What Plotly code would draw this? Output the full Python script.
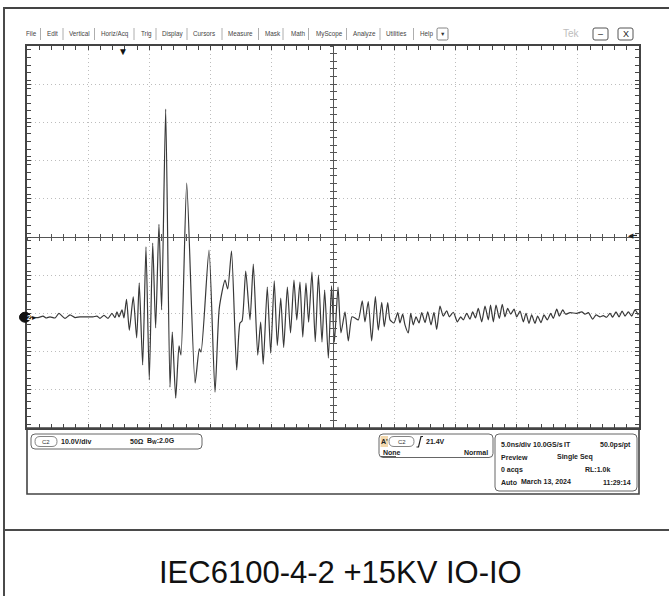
import plotly.graph_objects as go

W, H = 669, 596

# ---------------- data ----------------
# time in ns from the left edge of the screen (5 ns/div, 10 div), voltage in V
time_ns = [0.08, 0.90, 1.31, 1.55, 1.88, 2.29, 2.61, 3.10, 3.51, 3.92,
           4.33, 5.39, 5.72, 5.96, 6.29, 6.62, 6.94, 7.19, 7.35, 7.52,
           7.76, 7.92, 8.13, 8.36, 8.68, 8.96, 9.17, 9.45, 9.72, 9.99,
           10.27, 10.51, 10.78, 11.00, 11.33, 11.68, 11.87, 12.15, 12.42, 12.58,
           13.05, 13.73, 14.08, 14.22, 14.87, 15.36, 15.71, 16.18, 16.40, 16.71,
           17.13, 17.40, 17.57, 17.87, 18.22, 18.49, 18.85, 19.09, 19.30, 19.63,
           19.91, 20.20, 20.45, 20.73, 20.97, 21.27, 21.53, 21.81, 22.04, 22.30,
           22.53, 22.79, 23.01, 23.28, 23.55, 23.81, 24.10, 24.32, 24.62, 24.88,
           25.11, 25.41, 25.65, 25.98, 26.25, 26.55, 26.80, 27.07, 27.39, 27.61,
           27.88, 28.16, 28.46, 28.70, 28.98, 29.19, 29.47, 29.66, 29.98, 30.29,
           30.47, 30.69, 30.88, 31.15, 31.35, 31.56, 31.78, 32.03, 32.25, 32.52,
           32.74, 33.01, 33.25, 33.47, 33.74, 34.01, 34.29, 34.50, 34.83, 35.16,
           35.43, 35.65, 35.92, 36.19, 36.41, 36.64, 36.87, 37.15, 37.42, 37.69,
           37.87, 38.10, 38.32, 38.59, 38.83, 39.05, 39.27, 39.52, 39.79, 40.01,
           40.28, 40.55, 40.77, 41.01, 41.23, 41.50, 41.72, 41.99, 42.24, 42.51,
           42.79, 43.00, 43.28, 43.49, 43.77, 44.01, 44.36, 44.91, 45.32, 45.59,
           45.86, 46.22, 46.49, 46.81, 47.08, 47.36, 47.63, 47.85, 48.12, 48.37,
           48.62, 48.86, 49.13, 49.40, 49.67, 49.94]
volt_v = [0.1, -0.1, 0.3, -0.2, 0.1, -0.2, 1.0, -0.3, 0.6, -0.1,
          0.1, 0.1, 0.3, -0.3, 0.5, -0.3, 1.0, -0.1, 1.4, 0.1,
          1.9, -0.2, 4.7, -3.4, 5.3, -5.4, 9.0, -12.5, 18.4, -16.4,
          19.4, -2.8, 24.3, 1.9, 54.5, -18.3, -3.9, -21.2, -7.5, -9.9,
          35.1, -17.2, -8.3, -9.1, 17.6, -19.6, 2.4, 9.7, 7.4, 17.3,
          -13.8, -1.5, -1.0, 12.1, -0.7, 13.9, -9.9, -1.3, -12.3, 7.9,
          -9.4, 9.5, -7.4, 5.0, -7.9, 7.9, -4.1, 9.7, -0.7, 9.2,
          -5.2, 8.9, -1.3, 11.8, -6.4, 11.0, -6.5, 7.1, -10.7, 8.2,
          -6.5, 7.9, -4.1, 1.4, -6.2, 0.1, -0.2, -0.7, 4.3, -1.2,
          4.1, -6.2, 5.4, -3.4, 3.9, -2.5, 3.8, -0.7, -1.5, 1.2,
          -1.5, 0.8, -2.0, -4.1, 1.0, -2.0, 0.1, -1.5, 1.2, -1.4,
          1.4, -2.0, 1.3, -3.2, 2.9, 0.3, 1.7, 0.1, 1.3, -1.2,
          0.1, -0.7, 1.0, -0.5, 1.4, -0.2, 2.3, -1.2, 2.9, -0.7,
          3.2, -1.2, 3.2, -0.3, 3.4, 0.1, 2.3, 0.8, 2.1, 0.1,
          1.6, -1.2, 1.0, -1.6, 0.6, -1.6, 0.3, -1.4, 0.6, -0.7,
          1.0, -0.3, 2.1, 0.3, 1.9, 0.8, 1.2, 1.0, 1.4, 0.8,
          1.2, -0.5, 0.6, 0.1, 0.4, 0.0, 1.0, 0.0, 1.4, 0.1,
          1.6, 0.3, 1.4, 0.3, 1.9, 0.6]
assert len(time_ns) == len(volt_v)

ns_per_div = 5.0
volts_per_div = 10.0
n_div = 10
ground_offset_div = -2.1          # channel 2 ground marker position
trigger_time_ns = 7.85
trigger_level_v = 21.4

menu_items = ["File", "Edit", "Vertical", "Horiz/Acq", "Trig", "Display", "Cursors",
              "Measure", "Mask", "Math", "MyScope", "Analyze", "Utilities", "Help"]
menu_x = [24, 45, 67, 99, 138.5, 160, 190.5, 226, 263, 289, 314, 351, 384, 418]
menu_sep_x = [40.5, 63, 94.5, 134, 156, 187, 222, 258.5, 283, 308.5, 346.5, 380, 413.5]

title_text = "IEC6100-4-2 +15KV IO-IO"

# ---------------- helpers (pixel -> paper) ----------------
def fx(x):
    return x / W


def fy(y):
    return 1 - y / H


FONT = "Liberation Sans, Arial, sans-serif"
annotations = []
shapes = []


def text(t, x, y, size=7, color="#222", bold=False, anchor="left", **kw):
    annotations.append(dict(text=("<b>%s</b>" % t) if bold else t, x=fx(x), y=fy(y),
                            xref="paper", yref="paper", xanchor=anchor, yanchor="middle",
                            showarrow=False, font=dict(family=FONT, size=size, color=color), **kw))


def rrect(x0, y0, x1, y1, r, color="#555", width=1, fill=None):
    p = (f"M {fx(x0 + r)},{fy(y0)} L {fx(x1 - r)},{fy(y0)} Q {fx(x1)},{fy(y0)} {fx(x1)},{fy(y0 + r)} "
         f"L {fx(x1)},{fy(y1 - r)} Q {fx(x1)},{fy(y1)} {fx(x1 - r)},{fy(y1)} "
         f"L {fx(x0 + r)},{fy(y1)} Q {fx(x0)},{fy(y1)} {fx(x0)},{fy(y1 - r)} "
         f"L {fx(x0)},{fy(y0 + r)} Q {fx(x0)},{fy(y0)} {fx(x0 + r)},{fy(y0)} Z")
    shapes.append(dict(type="path", path=p, xref="paper", yref="paper", layer="below",
                       line=dict(color=color, width=width), fillcolor=fill or "rgba(0,0,0,0)"))


def hline(x0, x1, y, color="#555", width=1):
    shapes.append(dict(type="line", xref="paper", yref="paper", x0=fx(x0), x1=fx(x1),
                       y0=fy(y), y1=fy(y), line=dict(color=color, width=width)))


def vline(x, y0, y1, color="#555", width=1):
    shapes.append(dict(type="line", xref="paper", yref="paper", x0=fx(x), x1=fx(x),
                       y0=fy(y0), y1=fy(y1), line=dict(color=color, width=width)))


def bar(x0, x1, y0, y1, color="#444"):
    shapes.append(dict(type="rect", xref="paper", yref="paper", x0=fx(x0), x1=fx(x1),
                       y0=fy(y1), y1=fy(y0), fillcolor=color, line=dict(width=0)))


# ---------------- figure ----------------
GX0, GX1, GY0, GY1 = 27, 639, 46, 428
xdom = [fx(GX0), fx(GX1)]
ydom = [fy(GY1), fy(GY0)]
t_range = [0, n_div * ns_per_div]
v_min = (-n_div / 2 - ground_offset_div) * volts_per_div
v_max = (n_div / 2 - ground_offset_div) * volts_per_div

fig = go.Figure()
fig.add_trace(go.Scatter(x=time_ns, y=volt_v, mode="lines",
                         line=dict(color="#383838", width=1.2, shape="spline", smoothing=0.6),
                         hoverinfo="skip", showlegend=False))
# invisible traces so the centre graticule axes get drawn
fig.add_trace(go.Scatter(x=[None], y=[None], xaxis="x2", yaxis="y2", showlegend=False))
fig.add_trace(go.Scatter(x=[None], y=[None], xaxis="x3", yaxis="y3", showlegend=False))

EDGE = "#444"
GRID = "#bdbdbd"
common_x = dict(range=t_range, showticklabels=False, zeroline=False, fixedrange=True)
common_y = dict(range=[v_min, v_max], showticklabels=False, zeroline=False, fixedrange=True)

fig.update_layout(
    width=W, height=H, margin=dict(l=0, r=0, t=0, b=0),
    paper_bgcolor="white", plot_bgcolor="white", showlegend=False, hovermode=False,
    xaxis=dict(domain=xdom, **common_x, showgrid=True, gridcolor=GRID, griddash="1px,3px", gridwidth=1,
               tick0=0, dtick=ns_per_div, ticks="inside", ticklen=4, tickcolor=EDGE,
               showline=True, linecolor=EDGE, linewidth=1.6, mirror="allticks",
               minor=dict(dtick=ns_per_div / 5, ticks="inside", ticklen=4, tickcolor=EDGE, showgrid=False)),
    yaxis=dict(domain=ydom, **common_y, showgrid=True, gridcolor=GRID, griddash="1px,3px", gridwidth=1,
               tick0=v_min, dtick=volts_per_div, ticks="inside", ticklen=4, tickcolor=EDGE,
               showline=True, linecolor=EDGE, linewidth=1.6, mirror="allticks",
               minor=dict(dtick=volts_per_div / 5, ticks="inside", ticklen=4, tickcolor=EDGE, showgrid=False)),
    xaxis2=dict(overlaying="x", anchor="free", position=(ydom[0] + ydom[1]) / 2, **common_x,
                showgrid=False, showline=True, linecolor="#555", linewidth=1,
                tick0=0, dtick=ns_per_div / 5, ticks="outside", ticklen=3, tickcolor="#555"),
    xaxis3=dict(overlaying="x", anchor="free", position=(ydom[0] + ydom[1]) / 2, **common_x,
                showgrid=False, showline=False,
                tick0=0, dtick=ns_per_div / 5, ticks="inside", ticklen=3, tickcolor="#555"),
    yaxis2=dict(overlaying="y", anchor="free", position=(xdom[0] + xdom[1]) / 2, **common_y,
                showgrid=False, showline=True, linecolor="#555", linewidth=1,
                tick0=v_min, dtick=volts_per_div / 5, ticks="outside", ticklen=3, tickcolor="#555"),
    yaxis3=dict(overlaying="y", anchor="free", position=(xdom[0] + xdom[1]) / 2, **common_y,
                showgrid=False, showline=False,
                tick0=v_min, dtick=volts_per_div / 5, ticks="inside", ticklen=3, tickcolor="#555"),
)

# ---------- page frame ----------
bar(3, W, 7, 9, color="#444")
bar(3, 5, 7, H, color="#4a4a4a")
bar(3, W, 529, 531, color="#4a4a4a")
text(title_text, 340, 572, size=31, color="#111", anchor="center")

# ---------- menu bar ----------
MENU_Y = 34
for name, x in zip(menu_items, menu_x):
    text(name, x, MENU_Y, size=6.3, color="#444")
for x in menu_sep_x:
    vline(x, 28, 40, color="#999", width=0.8)
rrect(437, 28, 448, 40, 1.5, color="#666", width=0.8)
text("▼", 442.5, MENU_Y, size=5.5, color="#333", anchor="center")
text("Tek", 571, MENU_Y, size=10, color="#bdbdbd", anchor="center")
rrect(593, 28, 608, 40, 2, color="#555", width=1)
text("–", 600.5, MENU_Y, size=9, color="#222", anchor="center")
rrect(618, 28, 633, 40, 2, color="#555", width=1)
text("X", 625.5, MENU_Y, size=9, color="#222", anchor="center")

# ---------- scope markers ----------
annotations.append(dict(text="▼", x=trigger_time_ns, y=ydom[1], xref="x", yref="paper",
                        xanchor="center", yanchor="top", yshift=2, showarrow=False,
                        font=dict(family=FONT, size=10, color="#111")))
# trigger level marker (right edge)
annotations.append(dict(text="◀", x=fx(626), y=trigger_level_v, xref="paper", yref="y",
                        xanchor="left", yanchor="middle", showarrow=False,
                        font=dict(family=FONT, size=7, color="#222")))
shapes.append(dict(type="line", xref="paper", yref="y", x0=fx(630), x1=fx(637),
                   y0=trigger_level_v, y1=trigger_level_v, line=dict(color="#222", width=1.2)))
# channel 2 ground marker (left edge)
r_v = 5 / ((GY1 - GY0) / n_div) * volts_per_div
shapes.append(dict(type="circle", xref="paper", yref="y", x0=fx(19.5), x1=fx(30.5),
                   y0=-r_v, y1=r_v, fillcolor="#111", line=dict(color="#111", width=1)))
annotations.append(dict(text="<b>2</b>", x=fx(25), y=0, xref="paper", yref="y",
                        showarrow=False, font=dict(family=FONT, size=7, color="white")))
annotations.append(dict(text="▸", x=fx(29.5), y=0, xref="paper", yref="y",
                        xanchor="left", yanchor="middle", showarrow=False,
                        font=dict(family=FONT, size=8, color="#111")))

# ---------- bottom info panel ----------
shapes.append(dict(type="rect", xref="paper", yref="paper", x0=fx(GX0), x1=fx(GX1),
                   y0=fy(494), y1=fy(GY1), line=dict(color=EDGE, width=1.6)))
# channel box
rrect(31, 434, 202, 449, 4, color="#666", width=1)
rrect(35, 436.5, 57, 446.5, 5, color="#666", width=0.8)
text("C2", 46, 441.5, size=6, color="#333", anchor="center")
text("10.0V/div", 59, 441.5, size=7, bold=True)
text("50Ω", 128, 441.5, size=7, bold=True)
text("B<sub>W</sub>:2.0G", 145, 441, size=7, bold=True)
# trigger box
rrect(379, 434, 493, 457.5, 4, color="#666", width=1)
shapes.append(dict(type="rect", xref="paper", yref="paper", x0=fx(380.5), x1=fx(388),
                   y0=fy(447), y1=fy(436), fillcolor="#f2d8ad", line=dict(width=0), layer="below"))
text("A'", 384, 441.5, size=7, bold=True, anchor="center")
rrect(389, 436.5, 414, 446.5, 5, color="#666", width=0.8)
text("C2", 401.5, 441.5, size=6, color="#333", anchor="center")
shapes.append(dict(type="path", xref="paper", yref="paper", line=dict(color="#222", width=1.2),
                   path=f"M {fx(416.5)},{fy(447)} L {fx(418.5)},{fy(447)} L {fx(421)},{fy(436.5)} L {fx(423)},{fy(436.5)}"))
text("21.4V", 424, 441.5, size=7, bold=True)
text("None", 381, 452.5, size=7, bold=True)
hline(381, 396, 456.5, color="#333", width=0.8)
text("Normal", 490, 452.5, size=7, bold=True, anchor="right")
# timebase box
rrect(495, 434, 637, 491, 4, color="#666", width=1)
text("5.0ns/div", 499, 444.5, size=7, bold=True)
text("10.0GS/s", 531, 444.5, size=7, bold=True)
text("IT", 562, 444.5, size=7, bold=True)
text("50.0ps/pt", 633, 444.5, size=7, bold=True, anchor="right")
text("Preview", 499, 457, size=7, bold=True)
text("Single Seq", 555, 457, size=7, bold=True)
text("0 acqs", 499, 469.5, size=7, bold=True)
text("RL:1.0k", 612, 469.5, size=7, bold=True, anchor="right")
text("Auto", 499, 482, size=7, bold=True)
text("March 13, 2024", 519, 482, size=7, bold=True)
text("11:29:14", 633, 482, size=7, bold=True, anchor="right")

fig.update_layout(annotations=annotations, shapes=shapes)
fig.write_html("out.html", config={"displayModeBar": False},
               post_script="document.body.style.margin='0px';")
